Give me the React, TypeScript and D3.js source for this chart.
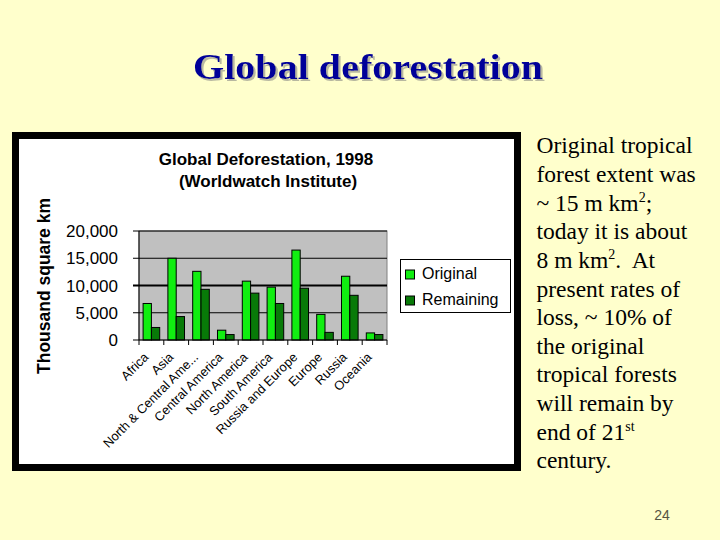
import { useEffect, useRef } from 'react'
import * as d3 from 'd3'

const categories = [
  'Africa',
  'Asia',
  'North & Central Ame...',
  'Central America',
  'North America',
  'South America',
  'Russia and Europe',
  'Europe',
  'Russia',
  'Oceania'
]
const seriesNames = ['Original', 'Remaining']
const originalValues = [6700, 15000, 12600, 1800, 10800, 9700, 16500, 4700, 11700, 1300]
const remainingValues = [2300, 4300, 9300, 1000, 8600, 6700, 9500, 1400, 8200, 1000]
const yTicks = [0, 5000, 10000, 15000, 20000]

// right-hand note, [text, isSuperscript]
const noteLines: [string, boolean][][] = [
  [['Original tropical', false]],
  [['forest extent was', false]],
  [['~ 15 m km', false], ['2', true], [';', false]],
  [['today it is about', false]],
  [['8 m km', false], ['2', true], ['.  At', false]],
  [['present rates of', false]],
  [['loss, ~ 10% of', false]],
  [['the original', false]],
  [['tropical forests', false]],
  [['will remain by', false]],
  [['end of 21', false], ['st', true]],
  [['century.', false]]
]

const SANS = '"Liberation Sans", Arial, sans-serif'
const SERIF = '"Liberation Serif", "Times New Roman", serif'
const colors = ['#11ee11', '#087a08']

export default function App() {
  const svgRef = useRef<SVGSVGElement>(null)

  useEffect(() => {
    document.body.style.margin = '0'
    if (!svgRef.current) return
    const svg = d3.select(svgRef.current)
    svg.selectAll('*').remove()

    svg.append('rect').attr('width', 720).attr('height', 540).attr('fill', '#ffffcc')

    // shadow filter for the slide title
    const filter = svg.append('defs').append('filter')
      .attr('id', 'titleShadow')
      .attr('x', '-5%').attr('y', '-20%')
      .attr('width', '110%').attr('height', '140%')
    filter.append('feOffset').attr('in', 'SourceAlpha').attr('dx', 2).attr('dy', 2).attr('result', 'off')
    filter.append('feFlood').attr('flood-color', '#b8b8a0').attr('result', 'col')
    filter.append('feComposite').attr('in', 'col').attr('in2', 'off').attr('operator', 'in').attr('result', 'shadow')
    const merge = filter.append('feMerge')
    merge.append('feMergeNode').attr('in', 'shadow')
    merge.append('feMergeNode').attr('in', 'SourceGraphic')

    svg.append('text')
      .attr('x', 368)
      .attr('y', 79)
      .attr('text-anchor', 'middle')
      .attr('font-family', SERIF)
      .attr('font-weight', 'bold')
      .attr('font-size', 35)
      .attr('textLength', 350)
      .attr('lengthAdjust', 'spacingAndGlyphs')
      .attr('fill', '#000099')
      .attr('filter', 'url(#titleShadow)')
      .text('Global deforestation')

    // chart frame
    svg.append('rect')
      .attr('x', 15.5).attr('y', 135.5)
      .attr('width', 502).attr('height', 332)
      .attr('fill', 'white')
      .attr('stroke', 'black')
      .attr('stroke-width', 7)

    const plot = { left: 139, right: 387, top: 231, bottom: 340 }

    const x = d3.scaleBand<string>()
      .domain(categories)
      .range([plot.left, plot.right])
      .paddingInner(0.33)
      .paddingOuter(0.165)
    const xStep = d3.scaleBand<string>().domain(categories).range([plot.left, plot.right])
    const xSub = d3.scaleBand<string>().domain(seriesNames).range([0, x.bandwidth()])
    const y = d3.scaleLinear().domain([0, 20000]).range([plot.bottom, plot.top])

    svg.append('rect')
      .attr('x', plot.left).attr('y', plot.top)
      .attr('width', plot.right - plot.left).attr('height', plot.bottom - plot.top)
      .attr('fill', '#c0c0c0')
      .attr('stroke', '#808080')

    // gridlines + y ticks
    const yAxis = svg.append('g').attr('transform', `translate(${plot.left},0)`)
    yTicks.forEach(t => {
      yAxis.append('line')
        .attr('x1', -6).attr('x2', t === 0 ? 0 : plot.right - plot.left)
        .attr('y1', y(t)).attr('y2', y(t))
        .attr('stroke', 'black')
        .attr('stroke-width', t === 10000 ? 2.2 : 1)
      yAxis.append('text')
        .attr('x', -21).attr('y', y(t))
        .attr('dy', '0.36em')
        .attr('text-anchor', 'end')
        .attr('font-family', SANS)
        .attr('font-size', 17)
        .text(d3.format(',')(t))
    })

    // bars
    const data = categories.map((c, i) => ({ c, vals: [originalValues[i], remainingValues[i]] }))
    data.forEach(d => {
      d.vals.forEach((v, j) => {
        svg.append('rect')
          .attr('x', (x(d.c) ?? 0) + (xSub(seriesNames[j]) ?? 0))
          .attr('y', y(v))
          .attr('width', xSub.bandwidth())
          .attr('height', y(0) - y(v))
          .attr('fill', colors[j])
          .attr('stroke', 'black')
          .attr('stroke-width', 1)
      })
    })

    // axes lines
    svg.append('line')
      .attr('x1', plot.left).attr('x2', plot.right)
      .attr('y1', plot.bottom).attr('y2', plot.bottom)
      .attr('stroke', 'black')
    svg.append('line')
      .attr('x1', plot.left).attr('x2', plot.left)
      .attr('y1', plot.top).attr('y2', plot.bottom)
      .attr('stroke', 'black')
    const tickXs = categories.map(c => xStep(c) ?? 0).concat([plot.right])
    tickXs.forEach(tx => {
      svg.append('line')
        .attr('x1', tx).attr('x2', tx)
        .attr('y1', plot.bottom).attr('y2', plot.bottom + 5)
        .attr('stroke', 'black')
    })

    // category labels
    categories.forEach(c => {
      const cx = (xStep(c) ?? 0) + xStep.bandwidth() / 2 - 2
      const cy = plot.bottom + 18
      svg.append('text')
        .attr('transform', `translate(${cx},${cy}) rotate(-45)`)
        .attr('text-anchor', 'end')
        .attr('font-family', SANS)
        .attr('font-size', 12.8)
        .text(c)
    })

    // y axis title
    svg.append('text')
      .attr('transform', `translate(50,286) rotate(-90)`)
      .attr('text-anchor', 'middle')
      .attr('font-family', SANS)
      .attr('font-weight', 'bold')
      .attr('font-size', 17.5)
      .text('Thousand square km')

    // chart title
    svg.append('text')
      .attr('x', 266).attr('y', 165)
      .attr('text-anchor', 'middle')
      .attr('font-family', SANS)
      .attr('font-weight', 'bold')
      .attr('font-size', 17)
      .text('Global Deforestation, 1998')
    svg.append('text')
      .attr('x', 268).attr('y', 187)
      .attr('text-anchor', 'middle')
      .attr('font-family', SANS)
      .attr('font-weight', 'bold')
      .attr('font-size', 17)
      .text('(Worldwatch Institute)')

    // legend
    const legend = svg.append('g').attr('transform', 'translate(400.5,259.5)')
    legend.append('rect')
      .attr('width', 110).attr('height', 53)
      .attr('fill', 'white').attr('stroke', 'black')
    seriesNames.forEach((s, i) => {
      legend.append('rect')
        .attr('x', 5).attr('y', 10.5 + i * 26)
        .attr('width', 9).attr('height', 9)
        .attr('fill', colors[i]).attr('stroke', 'black')
      legend.append('text')
        .attr('x', 21.5).attr('y', 19.5 + i * 26)
        .attr('font-family', SANS)
        .attr('font-size', 16)
        .text(s)
    })

    // note text
    const note = svg.append('text')
      .attr('font-family', SERIF)
      .attr('font-size', 23.5)
      .attr('fill', 'black')
      .style('white-space', 'pre')
    noteLines.forEach((line, i) => {
      const baseY = 153.3 + i * 28.64
      let first = true
      line.forEach(([txt, sup]) => {
        const t = note.append('tspan')
        if (first) t.attr('x', 536.5)
        first = false
        t.attr('y', sup ? baseY - 9 : baseY)
          .attr('font-size', sup ? 14 : 23.5)
          .text(txt)
      })
    })

    // page number
    svg.append('text')
      .attr('x', 662).attr('y', 520)
      .attr('text-anchor', 'middle')
      .attr('font-family', SANS)
      .attr('font-size', 14)
      .attr('fill', '#555544')
      .text('24')
  }, [])

  return (
    <svg
      ref={svgRef}
      width={720}
      height={540}
      style={{ position: 'absolute', left: 0, top: 0, display: 'block' }}
    />
  )
}
